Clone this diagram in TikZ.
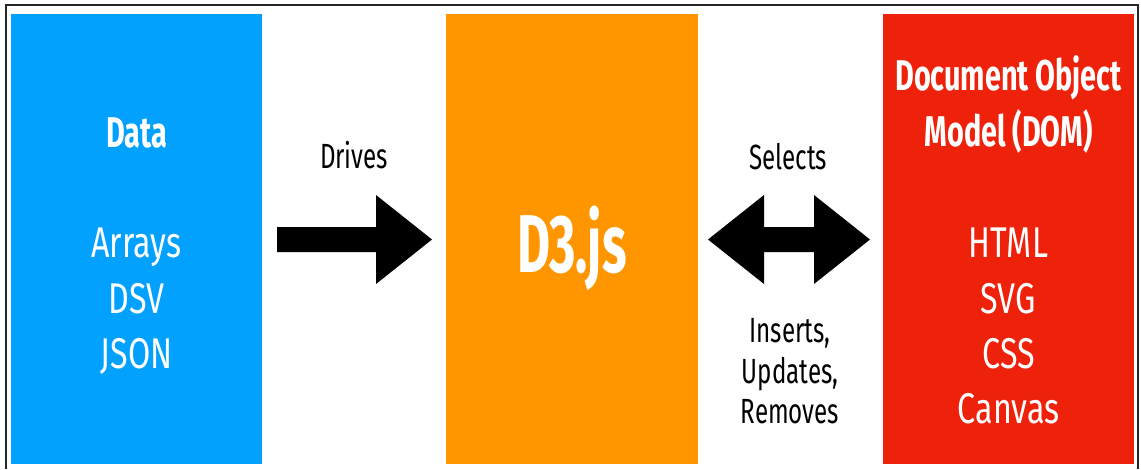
\documentclass[tikz,border=0pt]{standalone}
\usepackage{fontspec}
\setmainfont{Fira Sans}[FakeStretch=0.75]
\newfontfamily\boldcond{Fira Sans}[FakeStretch=0.67]
\newfontfamily\dthree{Fira Sans}[FakeStretch=0.62]
\newfontfamily\lblfont{Fira Sans}[FakeStretch=0.69]
\definecolor{dblue}{RGB}{2,161,254}
\definecolor{dorange}{RGB}{255,150,0}
\definecolor{dred}{RGB}{238,34,10}
\tikzset{
  big/.style={text=white, anchor=base, font=\fontsize{43}{50}\selectfont},
  bigb/.style={text=white, anchor=base, font=\boldcond\fontsize{43}{50}\selectfont\bfseries},
  lbl/.style={text=black, anchor=base, font=\lblfont\fontsize{35}{40}\selectfont},
  fat/.style={fill=black, draw=none}
}
\begin{document}
\begin{tikzpicture}[x=1pt,y=-1pt]
\useasboundingbox (0,0) rectangle (1141,469);
\fill[white] (0,0) rectangle (1141,469);
\draw[line width=2.5pt, color=black!85] (6,469) -- (6,5) -- (1138,5) -- (1138,469);
% panels
\fill[dblue] (11,14) rectangle (262,464);
\fill[dorange] (446,14) rectangle (698,464);
\fill[dred] (883,14) rectangle (1134,464);
% data text
\node[bigb] (tdata) at (136.5,147) {Data};
\node[big] (tarr) at (136.5,257) {Arrays};
\node[big] (tdsv) at (136.5,313) {DSV};
\node[big] (tjson) at (136.5,368) {JSON};
% d3
\node[text=white, anchor=base, font=\dthree\fontsize{82}{90}\selectfont\bfseries] (td3) at (572,272) {D3.js};
% dom
\node[bigb] (tdoc) at (1008.5,90) {Document Object};
\node[bigb] (tmod) at (1008.5,146) {Model (DOM)};
\node[big] (thtml) at (1008.5,257) {HTML};
\node[big] (tsvg) at (1008.5,313) {SVG};
\node[big] (tcss) at (1008.5,368) {CSS};
\node[big] (tcanvas) at (1008.5,423) {Canvas};
% arrows
\fill[fat] (277,227) -- (376,227) -- (376,195) -- (432,239.5) -- (376,284) -- (376,252) -- (277,252) -- cycle;
\fill[fat] (708,239.5) -- (764,195) -- (764,227) -- (814,227) -- (814,195) -- (870,239.5) -- (814,284) -- (814,252) -- (764,252) -- (764,284) -- cycle;
% labels
\node[lbl] (ldrives) at (354,168) {Drives};
\node[lbl] (lsel) at (788,169) {Selects};
\node[lbl] (lins) at (790,342) {Inserts,};
\node[lbl] (lupd) at (790,383) {Updates,};
\node[lbl] (lrem) at (790,423) {Removes};
\end{tikzpicture}
\end{document}
